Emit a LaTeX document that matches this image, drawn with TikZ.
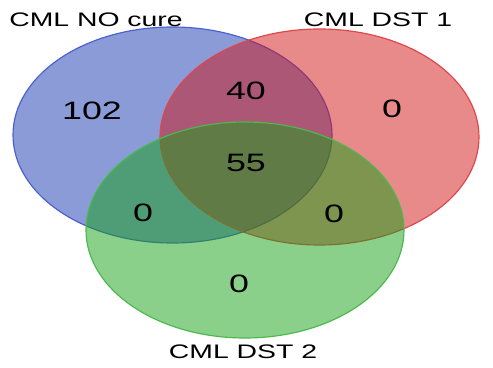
\documentclass[tikz,border=0pt]{standalone}
\usepackage{fontspec}
\setmainfont{Liberation Sans}
\definecolor{noCure}{RGB}{21,55,177}
\definecolor{dstOne}{RGB}{209,21,21}
\definecolor{dstTwo}{RGB}{21,161,21}
\definecolor{noCureLine}{RGB}{75,95,205}
\definecolor{dstOneLine}{RGB}{222,70,75}
\definecolor{dstTwoLine}{RGB}{75,185,75}
\tikzset{
  setfill/.style={fill opacity=0.5, line width=0.035cm},
  setlabel/.style={anchor=base, inner sep=0pt, xscale=1.45,
    font=\fontsize{16.7}{18}\selectfont},
  setcount/.style={anchor=base, inner sep=0pt, xscale=1.42,
    font=\fontsize{21.5}{24}\selectfont},
}
\begin{document}
\begin{tikzpicture}[x=0.03cm, y=-0.03cm]
                \useasboundingbox (0,0) rectangle (493,368);
                
                % Drawing set CML NO cure
                \draw [setfill, fill=noCure, draw=noCureLine] (172.5,135.0) ellipse (159.5 and 108.0);%
                
                % Drawing set CML DST 1
                \draw [setfill, fill=dstOne, draw=dstOneLine] (319.5,137.0) ellipse (159.5 and 108.0);%
                
                % Drawing set CML DST 2
                \draw [setfill, fill=dstTwo, draw=dstTwoLine] (245.0,230.0) ellipse (159.0 and 108.0);%
                
                % Marking set names
                \node [setlabel] (lblNoCure) at (96,27) {CML NO cure};%
                \node [setlabel] (lblDstOne) at (378,27) {CML DST 1};%
                \node [setlabel] (lblDstTwo) at (243,359) {CML DST 2};%
                
                % Marking region counts
                \node [setcount] (cntNoCure) at (92,120) {102};%
                \node [setcount] (cntNoCureOne) at (246,100) {40};%
                \node [setcount] (cntDstOne) at (392,118) {0};%
                \node [setcount] (cntAll) at (246,172) {55};%
                \node [setcount] (cntNoCureTwo) at (143,222) {0};%
                \node [setcount] (cntOneTwo) at (334,223) {0};%
                \node [setcount] (cntDstTwo) at (239,292) {0};%
\end{tikzpicture}
\end{document}
